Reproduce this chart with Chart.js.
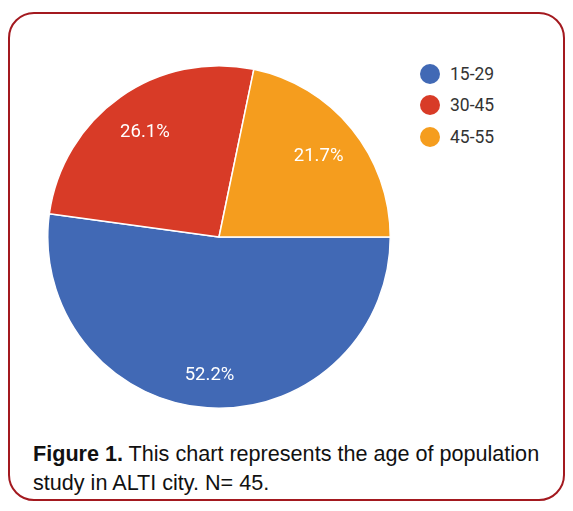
<!DOCTYPE html>
<html lang="en">
<head>
  <meta charset="UTF-8">
  <title>Age of population study</title>
  <script src="https://cdn.jsdelivr.net/npm/chart.js"></script>
  <style>
    html, body { margin: 0; padding: 0; background: #fff; }
    #frame {
      position: absolute; left: 8px; top: 12px; width: 553px; height: 485px;
      border: 2px solid #a3191f; border-radius: 26px;
    }
    #pieBox { position: absolute; left: 47px; top: 65px; width: 344px; height: 344px; }
    #legend { position: absolute; left: 420px; top: 58px; font-family: Roboto, sans-serif; font-size: 17.5px; color: #333; }
    #legend div { height: 31.5px; display: flex; align-items: center; }
    #legend span.dot { width: 20px; height: 20px; border-radius: 50%; margin-right: 10px; display: inline-block; }
    #caption {
      position: absolute; left: 33px; top: 439px; width: 530px;
      font-family: "Liberation Sans", Arial, sans-serif; font-size: 21.6px; line-height: 29px; color: #111;
    }
  </style>
</head>
<body>
  <div id="frame"></div>
  <div id="pieBox"><canvas id="chart"></canvas></div>
  <div id="legend"></div>
  <div id="caption"><b>Figure 1.</b> This chart represents the age of population study in ALTI city. N= 45.</div>

  <script>
    // age groups and counts (shown as percentages of slices)
    const ageGroups = ['15-29', '30-45', '45-55'];
    const counts = [24, 12, 10];
    const sliceColors = ['#4169b5', '#d83b27', '#f59d1e'];

    // legend built from the same arrays
    const legend = document.getElementById('legend');
    ageGroups.forEach((g, i) => {
      const row = document.createElement('div');
      row.innerHTML = `<span class="dot" style="background:${sliceColors[i]}"></span>${g}`;
      legend.appendChild(row);
    });

    // draws percent labels inside slices
    const pctLabels = {
      id: 'pctLabels',
      afterDatasetsDraw(chart) {
        const ctx = chart.ctx;
        const meta = chart.getDatasetMeta(0);
        const total = counts.reduce((a, b) => a + b, 0);
        ctx.save();
        ctx.fillStyle = '#fff';
        ctx.font = '18.5px Roboto, sans-serif';
        ctx.textAlign = 'center';
        ctx.textBaseline = 'middle';
        meta.data.forEach((arc, i) => {
          const mid = (arc.startAngle + arc.endAngle) / 2;
          const r = arc.outerRadius * (i === 0 ? 0.81 : 0.75);
          const x = arc.x + Math.cos(mid) * r;
          const y = arc.y + Math.sin(mid) * r;
          ctx.fillText((counts[i] / total * 100).toFixed(1) + '%', x, y);
        });
        ctx.restore();
      }
    };

    new Chart(document.getElementById('chart'), {
      type: 'pie',
      data: {
        labels: ageGroups,
        datasets: [{
          data: counts,
          backgroundColor: sliceColors,
          borderColor: '#fff',
          borderWidth: 1.5,
          hoverOffset: 0
        }]
      },
      options: {
        responsive: true,
        maintainAspectRatio: false,
        animation: false,
        rotation: 90,
        layout: { padding: 0 },
        plugins: {
          legend: { display: false },
          tooltip: { enabled: false }
        }
      },
      plugins: [pctLabels]
    });
  </script>
</body>
</html>
